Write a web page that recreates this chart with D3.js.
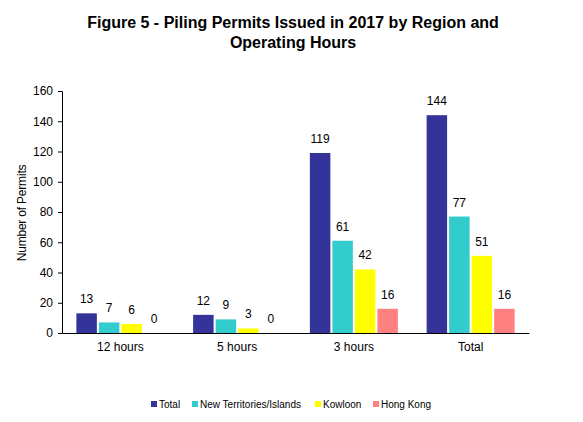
<!DOCTYPE html>
<html>
<head>
<meta charset="utf-8">
<script src="https://cdn.jsdelivr.net/npm/d3@7"></script>
<style>
  body { margin: 0; background: #fff; }
  text { font-family: "Liberation Sans", Arial, sans-serif; fill: #000; }
</style>
</head>
<body>
<div class="chart"></div>
<script>
// data
var categories = ["12 hours", "5 hours", "3 hours", "Total"];
var seriesNames = ["Total", "New Territories/Islands", "Kowloon", "Hong Kong"];
var totalValues = [13, 12, 119, 144];
var ntValues = [7, 9, 61, 77];
var kowloonValues = [6, 3, 42, 51];
var hkValues = [0, 0, 16, 16];
var yTicks = [0, 20, 40, 60, 80, 100, 120, 140, 160];

var colors = ["#333399", "#33CCCC", "#FFFF00", "#FF8080"];

var svgWidth = 583;
var svgHeight = 422;
var margin = { top: 91, right: 54, bottom: 89, left: 62 };
var width = svgWidth - margin.left - margin.right;
var height = svgHeight - margin.top - margin.bottom;

var series = [totalValues, ntValues, kowloonValues, hkValues];

var svg = d3.select(".chart")
  .append("svg")
  .attr("width", svgWidth)
  .attr("height", svgHeight);

// title
var title = svg.append("text")
  .attr("x", 293)
  .attr("y", 28)
  .attr("text-anchor", "middle")
  .style("font-weight", "bold")
  .style("font-size", "16px");
title.append("tspan").attr("x", 293).text("Figure 5 - Piling Permits Issued in 2017 by Region and");
title.append("tspan").attr("x", 293).attr("dy", 20).text("Operating Hours");

var chartGroup = svg.append("g")
  .attr("transform", `translate(${margin.left}, ${margin.top})`);

var x0 = d3.scaleBand()
  .domain(categories)
  .range([0, width])
  .paddingInner(0)
  .paddingOuter(0);

var x1 = d3.scaleBand()
  .domain(d3.range(seriesNames.length))
  .range([0, 88])
  .paddingInner(0.09);

var y = d3.scaleLinear()
  .domain([0, 160])
  .range([height, 0]);

// y axis
var leftAxis = d3.axisLeft(y).tickValues(yTicks).tickSize(4).tickPadding(5);
var yAxis = chartGroup.append("g").call(leftAxis);
yAxis.select(".domain").attr("stroke", "#000");
yAxis.selectAll("text").style("font-size", "12px");

// bars
var groups = chartGroup.selectAll(".grp")
  .data(categories)
  .enter().append("g")
  .attr("class", "grp")
  .attr("transform", d => `translate(${x0(d) + (x0.bandwidth() - 88) / 2}, 0)`);

groups.selectAll("rect")
  .data((d, i) => series.map((s, j) => ({ s: j, v: s[i] })))
  .enter().append("rect")
  .attr("x", d => x1(d.s))
  .attr("width", x1.bandwidth())
  .attr("y", d => y(d.v))
  .attr("height", d => height - y(d.v))
  .attr("fill", d => colors[d.s]);

groups.selectAll(".lbl")
  .data((d, i) => series.map((s, j) => ({ s: j, v: s[i] })))
  .enter().append("text")
  .attr("class", "lbl")
  .attr("x", d => x1(d.s) + x1.bandwidth() / 2)
  .attr("y", d => y(d.v) - 10)
  .attr("text-anchor", "middle")
  .style("font-size", "12px")
  .text(d => d.v);

// x axis line + labels
var bottomAxis = d3.axisBottom(x0).tickSize(0).tickPadding(9);
var xAxis = chartGroup.append("g")
  .attr("transform", `translate(0, ${height})`)
  .call(bottomAxis);
xAxis.select(".domain").attr("stroke", "#000");
xAxis.selectAll("text").style("font-size", "12px");

// y axis title
svg.append("text")
  .attr("transform", "translate(26, 213) rotate(-90)")
  .attr("text-anchor", "middle")
  .style("font-size", "12px")
  .style("letter-spacing", "-0.2px")
  .text("Number of Permits");

// legend
var legendX = [151, 192, 315, 373];
var legend = svg.append("g").attr("transform", "translate(0, 404)");
var items = legend.selectAll("g")
  .data(seriesNames)
  .enter().append("g")
  .attr("transform", (d, i) => `translate(${legendX[i]}, 0)`);
items.append("rect")
  .attr("x", 0)
  .attr("y", -3)
  .attr("width", 6)
  .attr("height", 6)
  .attr("fill", (d, i) => colors[i]);
items.append("text")
  .attr("x", 8)
  .attr("y", 3.5)
  .style("font-size", "10px")
  .text(d => d);
</script>
</body>
</html>
